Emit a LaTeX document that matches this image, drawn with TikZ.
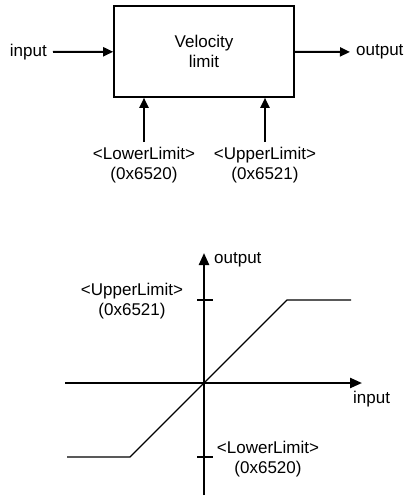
\documentclass[tikz,border=0pt]{standalone}
\usepackage{fontspec}
\setmainfont{Liberation Sans}
\usepackage{tikz}
\usetikzlibrary{arrows.meta, positioning}

\begin{document}
\begin{tikzpicture}[x=1pt, y=-1pt,
font=\fontsize{17}{20}\selectfont,
block/.style={rectangle, draw=black, line width=1.6pt, fill=white,
minimum width=180pt, minimum height=91pt, align=center},
tag/.style={inner sep=6pt},
limittag/.style={align=center, inner sep=5pt, anchor=north},
arrow/.style={-{Triangle[length=10pt, width=9pt]}, line width=2pt},
axis/.style={-{Triangle[length=12pt, width=10pt]}, line width=2.3pt},
tick/.style={line width=1.7pt},
curve/.style={line width=1.3pt}]

\useasboundingbox (0,0) rectangle (407,496);

\node[block] (limit) at (204,51.5) {Velocity\\limit};
\node[tag, anchor=east] (in) at (53,52) {input};
\node[tag, anchor=west] (out) at (350,52) {output};
\node[limittag] (lower) at (144,142) {<LowerLimit>\\(0x6520)};
\node[limittag] (upper) at (265,142) {<UpperLimit>\\(0x6521)};

\draw[arrow] (in) -- (limit);
\draw[arrow] (limit) -- (out);
\draw[arrow] (lower.north) -- (lower.north |- limit.south);
\draw[arrow] (upper.north) -- (upper.north |- limit.south);

\coordinate (origin) at (204,383);
\draw[axis] (65,383) -- (362,383);
\draw[axis] (204,495) -- (204,253);
\draw[tick] (197,300) -- (213,300);
\draw[tick] (197,457) -- (213,457);
\draw[curve] (67,457) -- (130,457) -- (origin) -- (287,300) -- (351,300);

\node[anchor=base west, inner sep=0pt] (yname) at (214,263) {output};
\node[anchor=base west, inner sep=0pt] (xname) at (353,403) {input};
\node[limittag, inner sep=0pt] (upperval) at (132,283) {<UpperLimit>\\(0x6521)};
\node[limittag, inner sep=0pt] (lowerval) at (268,441) {<LowerLimit>\\(0x6520)};
\end{tikzpicture}
\end{document}
